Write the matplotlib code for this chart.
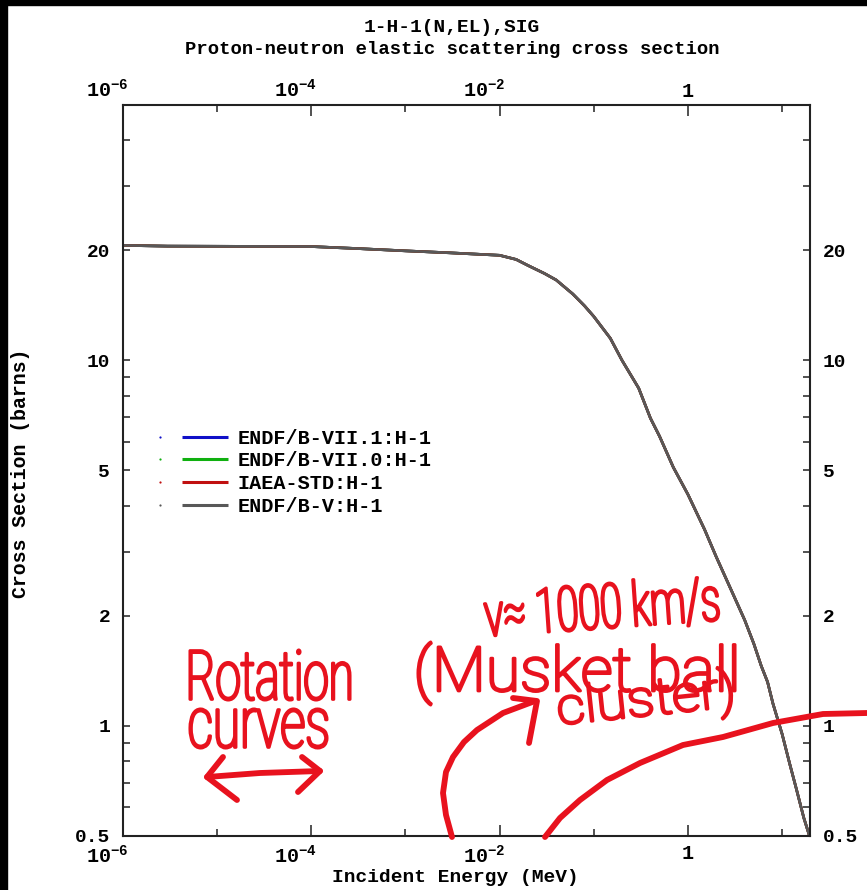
import matplotlib
matplotlib.use("Agg")
import matplotlib.pyplot as plt
from matplotlib.lines import Line2D
from matplotlib.legend_handler import HandlerBase
from matplotlib.textpath import TextPath
from matplotlib.patches import PathPatch, Rectangle
from matplotlib.font_manager import FontProperties
from matplotlib.ticker import NullFormatter, FixedLocator
from matplotlib import transforms as mtransforms

W, H = 867, 890

# Elastic cross section of H-1 (MeV, barns)
energy_mev = [1e-6, 3e-6, 1e-4, 3e-4, 1e-3, 3e-3, 1e-2, 1.5e-2, 2e-2, 3e-2, 4e-2,
              6e-2, 8e-2, 0.1, 0.15, 0.2, 0.3, 0.4, 0.5, 0.7, 1.0, 1.5, 2.0, 3.0,
              4.0, 5.0, 6.0, 7.0, 8.0, 10.0, 12.0, 14.0, 17.0, 20.0]
sigma_barns = [20.65, 20.55, 20.5, 20.25, 19.95, 19.7, 19.4, 18.9, 18.2, 17.3, 16.6,
               15.2, 14.1, 13.2, 11.5, 10.0, 8.4, 6.95, 6.2, 5.1, 4.3, 3.45, 2.9, 2.3,
               1.95, 1.68, 1.46, 1.32, 1.15, 0.95, 0.79, 0.68, 0.56, 0.49]

series_labels = ["ENDF/B-VII.1:H-1", "ENDF/B-VII.0:H-1", "IAEA-STD:H-1", "ENDF/B-V:H-1"]
series_colors = ["#1010c8", "#10b010", "#c01010", "#585858"]

x_major = [1e-6, 1e-4, 1e-2, 1]
x_major_labels = [r"$10^{-6}$", r"$10^{-4}$", r"$10^{-2}$", "1"]
x_minor = [1e-5, 1e-3, 1e-1, 10]
y_major = [0.5, 1, 2, 5, 10, 20]
y_major_labels = ["0.5", "1", "2", "5", "10", "20"]
y_minor = [0.6, 0.7, 0.8, 0.9, 3, 4, 6, 7, 8, 9, 30, 40]

plt.rcParams["font.family"] = ["Liberation Mono", "DejaVu Sans"]
plt.rcParams["font.weight"] = "bold"
plt.rcParams["mathtext.default"] = "regular"

fig = plt.figure(figsize=(W / 100, H / 100), dpi=100)
fig.patch.set_facecolor("white")
ax = fig.add_axes([122.7 / W, 1 - 836 / H, (810.5 - 122.7) / W, (836 - 105) / H])
ax.set_xscale("log")
ax.set_yscale("log")
ax.set_xlim(1e-6, 20)
ax.set_ylim(0.5, 50)

for lab, col in zip(series_labels, series_colors):
    ax.plot(energy_mev, sigma_barns, color=col, lw=1.9, label=lab)

ax.xaxis.set_major_locator(FixedLocator(x_major))
ax.set_xticklabels(x_major_labels)
ax.xaxis.set_minor_locator(FixedLocator(x_minor))
ax.xaxis.set_minor_formatter(NullFormatter())
ax.yaxis.set_major_locator(FixedLocator(y_major))
ax.set_yticklabels(y_major_labels)
ax.yaxis.set_minor_locator(FixedLocator(y_minor))
ax.yaxis.set_minor_formatter(NullFormatter())

for s in ax.spines.values():
    s.set_linewidth(1.5)
    s.set_color("#222222")

ax.tick_params(axis="x", which="both", direction="in", top=True, bottom=True,
               labeltop=True, labelbottom=True, width=1.1, color="#222222",
               labelsize=14.5, pad=6)
ax.tick_params(axis="x", which="major", length=8)
ax.tick_params(axis="x", which="minor", length=5)
ax.tick_params(axis="y", which="both", direction="in", left=True, right=True,
               labelleft=True, labelright=True, width=1.1, length=5,
               color="#222222", labelsize=14)
ax.tick_params(axis="y", which="major", pad=9)

shift = mtransforms.ScaledTranslation(4 / 72, 0, fig.dpi_scale_trans)
for t in ax.xaxis.get_major_ticks():
    for lab in (t.label1, t.label2):
        lab.set_horizontalalignment("right")
        lab.set_transform(lab.get_transform() + shift)
top_drop = mtransforms.ScaledTranslation(0, -3 / 72, fig.dpi_scale_trans)
for t in ax.xaxis.get_major_ticks():
    t.label2.set_transform(t.label2.get_transform() + top_drop)


class DotLineHandler(HandlerBase):
    def create_artists(self, legend, orig, xd, yd, width, height, fontsize, trans):
        y = height / 2 - yd
        x0 = -xd
        dot = Line2D([x0], [y], ls="none", marker="o", ms=1.6, mew=0,
                     color=orig.get_color())
        seg = Line2D([x0 + 0.33 * width, x0 + width], [y, y], lw=2.2,
                     color=orig.get_color(), solid_capstyle="butt")
        for a in (dot, seg):
            a.set_transform(trans)
        return [dot, seg]


ax.legend(handler_map={Line2D: DotLineHandler()}, loc="upper left",
          bbox_to_anchor=(0.054, 0.557), frameon=False,
          prop=FontProperties(family="Liberation Mono", weight="bold", size=14.5),
          handlelength=3.4, handletextpad=0.45, labelspacing=0.18,
          borderpad=0, borderaxespad=0)

fig.text(452 / W, 1 - 27 / H, "1-H-1(N,EL),SIG", ha="center", va="center",
         fontsize=14, weight="bold")
fig.text(452 / W, 1 - 50 / H, "Proton-neutron elastic scattering cross section",
         ha="center", va="center", fontsize=13.6, weight="bold")
fig.text(21 / W, 1 - 473 / H, "Cross Section (barns)", rotation=90,
         ha="center", va="center", fontsize=14.3, weight="bold")
fig.text(455 / W, 1 - 877 / H, "Incident Energy (MeV)", ha="center", va="center",
         fontsize=14, weight="bold")

# dark frame strips along the upper and left edges
fig.add_artist(Rectangle((0, 0), 7 / W, 1, transform=fig.transFigure,
                         color="black", zorder=10))
fig.add_artist(Rectangle((0, 1 - 5 / H), 1, 5 / H, transform=fig.transFigure,
                         color="black", zorder=10))

# red pen notes, placed in pixel space
INK = "#e8121e"
pixel = mtransforms.IdentityTransform()
hand_font = FontProperties(family="Roboto", weight="light")


def scrawl(s, x0, y0, x1, y1, rot=0.0):
    tp = TextPath((0, 0), s, size=100, prop=hand_font)
    bb = tp.get_extents()
    tr = (mtransforms.Affine2D().translate(-bb.x0, -bb.y0)
          .scale((x1 - x0) / bb.width, (y1 - y0) / bb.height)
          .rotate_deg(rot).translate(x0, H - y1))
    patch = PathPatch(tr.transform_path(tp), facecolor=INK, edgecolor=INK,
                      lw=2.2, joinstyle="round", transform=pixel, zorder=20)
    fig.add_artist(patch)


def stroke(pts, lw=4.2):
    xs = [p[0] for p in pts]
    ys = [H - p[1] for p in pts]
    fig.add_artist(Line2D(xs, ys, color=INK, lw=lw, transform=pixel,
                          solid_capstyle="round", solid_joinstyle="round", zorder=20))


scrawl("Rotation", 190, 650, 350, 700)
scrawl("curves", 190, 709, 327, 748)
scrawl("v\u2248 1000 km/s", 487, 590, 720, 640, rot=4)
scrawl("(Musket ball", 418, 642, 735, 705)
scrawl("cluster)", 562, 684, 735, 736, rot=6)

stroke([(207, 777), (260, 773), (320, 771)])
stroke([(223, 757), (207, 777), (237, 800)])
stroke([(302, 757), (320, 771), (298, 792)])

stroke([(452, 837), (446, 815), (443, 793), (446, 772), (453, 757), (464, 742),
        (477, 730), (503, 713), (535, 701)])
stroke([(513, 698), (537, 701), (529, 743)])

stroke([(545, 837), (560, 818), (580, 800), (607, 780), (640, 763), (683, 745),
        (723, 737), (773, 723), (823, 714), (867, 713)])

fig.savefig("out.png", dpi=100)
